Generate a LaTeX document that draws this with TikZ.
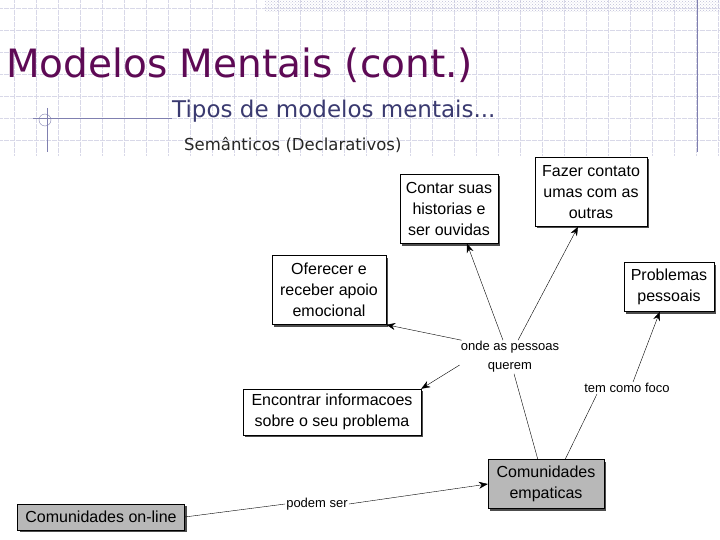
\documentclass[tikz,border=0pt]{standalone}
\usepackage{fontspec}
\setmainfont{Liberation Sans}
\newfontfamily\titlefont{DejaVu Sans}
\usetikzlibrary{patterns,arrows.meta,shadows,calc}
\definecolor{ttl}{HTML}{5E0A55}
\definecolor{sub}{HTML}{3A3A70}
\definecolor{gridc}{HTML}{D8D8E8}
\definecolor{lineb}{HTML}{8080B0}
\begin{document}
\begin{tikzpicture}[x=1pt,y=-1pt,
  box/.style={draw=black,fill=white,align=center,font=\fontsize{16}{21}\selectfont,inner sep=3pt,
     drop shadow={shadow xshift=2pt,shadow yshift=-2pt,fill=black!70,opacity=1}},
  gbox/.style={box,fill=black!28},
  lab/.style={align=center,font=\fontsize{13}{19}\selectfont,inner sep=1pt,fill=white},
  arr/.style={-{Stealth[length=9pt,width=7pt]},thin},
  ln/.style={thin}]
\useasboundingbox (0,0) rectangle (720,540);
\fill[white] (0,0) rectangle (720,540);
% grid
\foreach \x in {14,36,...,720} \draw[gridc,densely dotted,very thin] (\x,0) -- (\x,155);
\foreach \y in {8,30,...,155} \draw[gridc,densely dotted,very thin] (0,\y) -- (720,\y);
\fill[pattern=crosshatch dots,pattern color=lineb!50] (265,0) rectangle (720,12);
\draw[lineb] (697,0) -- (697,152);
\draw[lineb] (33,118) -- (172,118);
\draw[lineb] (47,108) -- (47,152);
\draw[lineb] (45,120) circle (6);
% titles
\node[anchor=base west,text=ttl,font=\titlefont\fontsize{39}{42}\selectfont,inner sep=0] (t) at (6,78) {Modelos Mentais (cont.)};
\node[anchor=base west,text=sub,font=\titlefont\fontsize{23}{26}\selectfont,inner sep=0] (s1) at (172,118) {Tipos de modelos mentais...};
\node[anchor=base west,text=black!85,font=\titlefont\fontsize{16.5}{18}\selectfont,inner sep=0] (s2) at (184,151) {Semânticos (Declarativos)};
% nodes
\node[box,minimum width=98,minimum height=69] (contar) at (449,209) {Contar suas\\historias e\\ser ouvidas};
\node[box,minimum width=112,minimum height=69] (fazer) at (591,192) {Fazer contato\\umas com as\\outras};
\node[box,minimum width=114,minimum height=69] (ofer) at (329,290) {Oferecer e\\receber apoio\\emocional};
\node[box,minimum width=90,minimum height=49] (prob) at (669,287) {Problemas\\pessoais};
\node[lab] (onde) at (510,357) {onde as pessoas\\querem};
\node[lab] (foco) at (627,388) {tem como foco};
\node[box,minimum width=178,minimum height=46] (enc) at (332,412) {Encontrar informacoes\\sobre o seu problema};
\node[gbox,minimum width=116,minimum height=49] (emp) at (546,484) {Comunidades\\empaticas};
\node[lab] (pod) at (317,504) {podem ser};
\node[gbox,minimum width=167,minimum height=26,inner sep=1pt] (onl) at (101,517) {Comunidades on-line};
% edges
\draw[ln] (onl.east) -- (pod.west);
\draw[arr] (pod.east) -- (emp.west);
\draw[ln] ($(emp.north west)+(50,0)$) -- ($(onde.south)+(4,0)$);
\draw[arr] ($(onde.north)+(-7,0)$) -- ($(contar.south)+(18,0)$);
\draw[arr] ($(onde.north)+(8,0)$) -- ($(fazer.south)+(-13,0)$);
\draw[arr] ($(onde.north west)+(2,0)$) -- (ofer.south east);
\draw[arr] ($(onde.west)+(0,8)$) -- (enc.north east);
\draw[ln] ($(emp.north east)+(-39,0)$) -- ($(foco.south)+(-30,0)$);
\draw[arr] ($(foco.north)+(6,0)$) -- ($(prob.south west)+(36,0)$);
\end{tikzpicture}
\end{document}
